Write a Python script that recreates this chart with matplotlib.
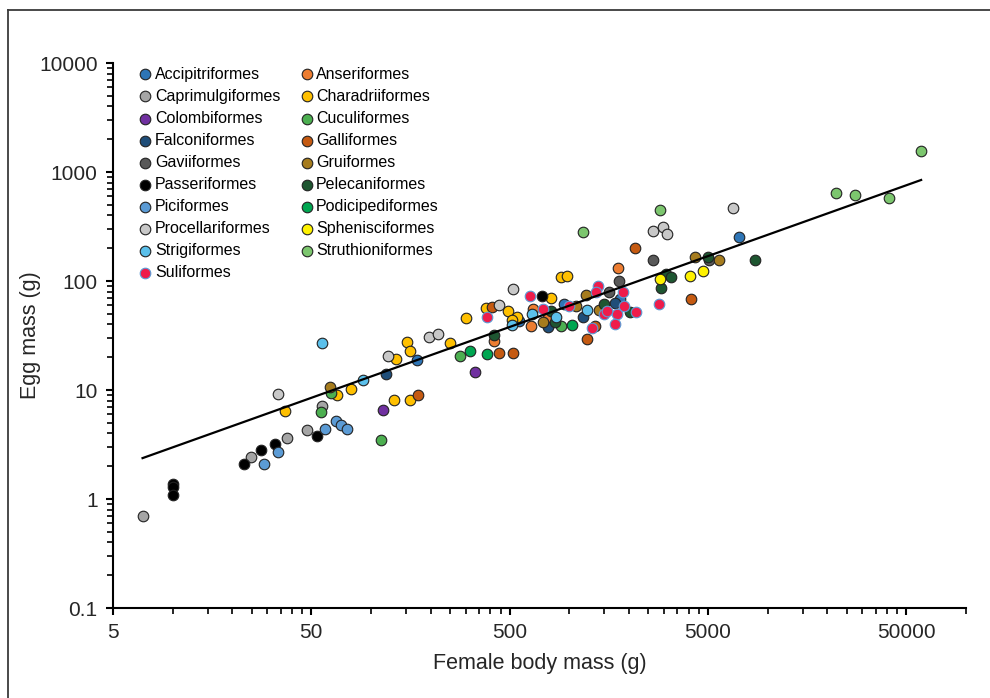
import matplotlib
matplotlib.use("Agg")
import matplotlib.pyplot as plt
import numpy as np
from matplotlib.lines import Line2D
from matplotlib.ticker import FixedLocator, FuncFormatter, LogLocator, NullFormatter

plt.rcParams['font.family'] = ['Liberation Sans', 'DejaVu Sans']

# female body mass (g), egg mass (g) per order
orders = {
    'Accipitriformes': ([171, 557, 940, 1794, 7160],
                        [18.7, 43.3, 61.5, 68.4, 252]),
    'Anseriformes': ([415, 657, 640, 782, 1753],
                     [28.4, 55, 38.7, 45.5, 131]),
    'Caprimulgiformes': ([7.05, 24.9, 37.8, 47.6, 56.9],
                         [0.70, 2.41, 3.6, 4.3, 7.1]),
    'Charadriiformes': ([37, 67.1, 79.4, 133, 130, 158, 152, 158, 250, 302, 380, 489, 542, 514, 807, 912, 977],
                        [6.4, 9.0, 10.2, 19.2, 8.1, 8.1, 27.4, 23, 27.2, 45.5, 57, 53.5, 47, 43.9, 69.4, 108, 111]),
    'Colombiformes': ([114.6, 336], [6.6, 14.7]),
    'Cuculiformes': ([56, 62.8, 112, 282, 904], [6.3, 9.4, 3.5, 20.5, 38.7]),
    'Falconiformes': ([118.6, 783, 1169, 1707], [13.9, 38.1, 47, 62.4]),
    'Galliformes': ([173, 443, 520, 407, 1344, 1233, 2133, 4130],
                    [9.0, 22, 22, 58, 38.7, 29.2, 200, 68.8]),
    'Gaviiformes': ([1787, 1592, 2655, 5070], [101, 79.3, 156, 156]),
    'Gruiformes': ([62.4, 735, 1087, 1216, 1406, 4295, 5670],
                   [10.7, 42.4, 59, 74.5, 54.2, 167, 155]),
    'Passeriformes': ([10, 10, 10, 22.9, 28, 33, 53.7, 730],
                      [1.37, 1.30, 1.10, 2.10, 2.81, 3.2, 3.78, 72.8]),
    'Pelecaniformes': ([415, 807, 843, 1502, 2028, 3060, 3245, 2900, 4990, 8650],
                       [31.8, 52.7, 42.4, 61.5, 52, 116, 108, 85.7, 167, 155]),
    'Piciformes': ([29, 34.1, 58.5, 66.3, 70.8, 75.3], [2.10, 2.68, 4.4, 5.2, 4.8, 4.4]),
    'Podicipediformes': ([314, 384, 1028], [23, 21.4, 39.2]),
    'Procellariformes': ([34, 122, 196, 218, 442, 518, 2655, 2957, 3120, 6680],
                         [9.1, 20.5, 30.4, 32.4, 60, 84.5, 290, 311, 268, 464]),
    'Sphenisciformes': ([2870, 4055, 4730], [105, 111, 123]),
    'Strigiformes': ([56.6, 91, 516, 652, 853, 1230], [26.8, 12.4, 39.2, 49.8, 47, 54.2]),
    'Struthioniformes': ([1166, 2870, 22040, 27540, 40740, 59430],
                         [283, 448, 638, 611, 573, 1549]),
    'Suliformes': ([384, 632, 735, 995, 1392, 1364, 1857, 1879, 2176, 1737, 1693, 1490, 1550, 1303, 2845],
                   [46.5, 72.8, 55, 59, 90.6, 79.3, 79.8, 59, 52, 49.5, 40.3, 49.8, 53, 36.8, 61.5]),
}

# fitted line as shown in the chart: log10(egg) = intercept + slope * log10(body)
fit_slope = 0.65
fit_intercept = -0.176

colors = {
    'Accipitriformes': '#2E75B6', 'Anseriformes': '#ED7D31',
    'Caprimulgiformes': '#A5A5A5', 'Charadriiformes': '#FFC000',
    'Colombiformes': '#7030A0', 'Cuculiformes': '#4CAF50',
    'Falconiformes': '#1F4E79', 'Galliformes': '#C55A11',
    'Gaviiformes': '#595959', 'Gruiformes': '#A67C1E',
    'Passeriformes': '#000000', 'Pelecaniformes': '#1E5631',
    'Piciformes': '#5B9BD5', 'Podicipediformes': '#00A651',
    'Procellariformes': '#C8C8C8', 'Sphenisciformes': '#FFF200',
    'Strigiformes': '#5BC0EB', 'Struthioniformes': '#7CC66E',
    'Suliformes': '#EE1C4B',
}

fig = plt.figure(figsize=(9.9, 6.98), dpi=100)
ax = fig.add_axes([0.1141, 0.1289, 0.8616, 0.7808])

handles = []
for name, (xs, ys) in orders.items():
    edge = '#5B9BD5' if name == 'Suliformes' else '#222222'
    h = ax.scatter(xs, ys, s=58, color=colors[name], edgecolors=edge,
                   linewidths=0.8, label=name, zorder=3)
    handles.append(h)

all_x = np.concatenate([np.array(v[0], float) for v in orders.values()])
fx = np.array([all_x.min(), all_x.max()])
ax.plot(fx, 10 ** (fit_intercept + fit_slope * np.log10(fx)), color='black', lw=1.6, zorder=4)

ax.set_xscale('log')
ax.set_yscale('log')
ax.set_xlim(5, 100000)
ax.set_ylim(0.1, 10000)

ax.xaxis.set_major_locator(FixedLocator([5, 50, 500, 5000, 50000]))
ax.xaxis.set_minor_locator(FixedLocator([5 * k * 10 ** n for n in range(4) for k in range(2, 10)] + [100000]))
ax.yaxis.set_major_locator(LogLocator(base=10))
ax.yaxis.set_minor_locator(LogLocator(base=10, subs=np.arange(2, 10)))
fmt = FuncFormatter(lambda v, p: '%g' % v)
ax.xaxis.set_major_formatter(fmt)
ax.yaxis.set_major_formatter(fmt)
ax.xaxis.set_minor_formatter(NullFormatter())
ax.yaxis.set_minor_formatter(NullFormatter())

for s in ['top', 'right']:
    ax.spines[s].set_visible(False)
for s in ['left', 'bottom']:
    ax.spines[s].set_linewidth(1.5)
    ax.spines[s].set_color('black')
ax.tick_params(which='major', direction='out', length=5, width=1.5, labelsize=15,
               labelcolor='#262626', pad=6)
ax.tick_params(which='minor', direction='out', length=4, width=1.2)

ax.set_xlabel('Female body mass (g)', fontsize=15.5, color='#262626', labelpad=8)
ax.set_ylabel('Egg mass (g)', fontsize=15.5, color='#262626')
ax.yaxis.set_label_coords(-0.084, 0.5)

# legend is filled row by row in the original
order_idx = list(range(0, len(handles), 2)) + list(range(1, len(handles), 2))
ax.legend([handles[i] for i in order_idx], [handles[i].get_label() for i in order_idx],
          ncol=2, loc='upper left', bbox_to_anchor=(0.022, 1.008), frameon=False,
          fontsize=11.5, borderpad=0, handlelength=0.7, handletextpad=0.25,
          columnspacing=1.3, labelspacing=0.44, scatterpoints=1)

# border lines of the original frame
fig.add_artist(Line2D([8 / 990, 8 / 990], [0, 1 - 10 / 698], transform=fig.transFigure,
                      color='#3a3a3a', lw=1.3))
fig.add_artist(Line2D([8 / 990, 1], [1 - 10 / 698, 1 - 10 / 698], transform=fig.transFigure,
                      color='#3a3a3a', lw=1.3))

fig.savefig('out.png', dpi=100)
